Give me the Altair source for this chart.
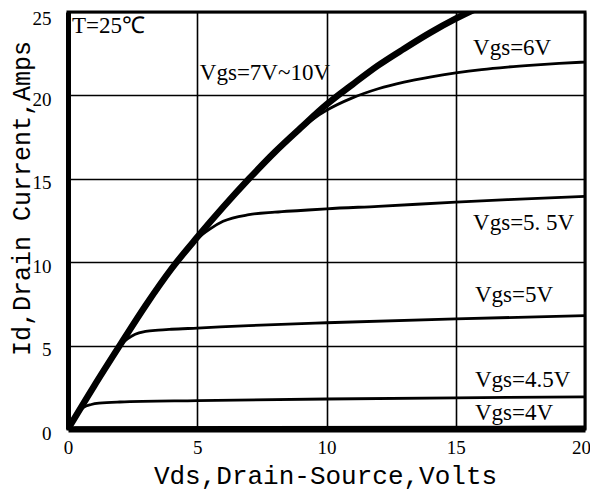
import altair as alt
import pandas as pd

# Thick envelope curve (Vgs = 7V~10V)
thick_x = [0, 1, 2, 3, 4, 5, 6, 7, 8, 9, 10, 11, 12, 13, 14, 15, 16]
thick_y = [0, 2.55, 5.0, 7.4, 9.6, 11.5, 13.3, 15.0, 16.6, 18.05, 19.45, 20.65, 21.8, 22.8, 23.75, 24.6, 25.35]

vgs6_x = [0, 1, 2, 3, 4, 5, 6, 7, 8, 9, 9.5, 10, 11, 12, 13, 14, 15, 16, 17, 18, 19, 20]
vgs6_y = [0, 2.55, 5.0, 7.4, 9.6, 11.5, 13.3, 15.0, 16.6, 18.0, 18.6, 19.1, 19.85, 20.4, 20.8, 21.1, 21.35, 21.55, 21.7, 21.82, 21.92, 22.0]

vgs55_x = [0, 1, 2, 3, 4, 4.5, 5, 5.5, 6, 7, 8, 9, 10, 12, 15, 17, 20]
vgs55_y = [0, 2.55, 5.0, 7.4, 9.6, 10.5, 11.4, 12.0, 12.45, 12.85, 13.0, 13.1, 13.2, 13.35, 13.6, 13.75, 13.95]

vgs5_x = [0, 1, 2, 2.3, 2.6, 3, 3.5, 4, 5, 7, 10, 15, 20]
vgs5_y = [0, 2.55, 5.0, 5.4, 5.68, 5.85, 5.93, 5.98, 6.05, 6.2, 6.37, 6.6, 6.8]

vgs45_x = [0, 0.3, 0.6, 0.9, 1.2, 2, 5, 10, 15, 20]
vgs45_y = [0, 0.8, 1.3, 1.47, 1.55, 1.62, 1.7, 1.8, 1.87, 1.93]

vgs4_x = [0, 0.3, 20]
vgs4_y = [0, 0.08, 0.12]

label_text = ["T=25℃", "Vgs=7V~10V", "Vgs=6V", "Vgs=5. 5V", "Vgs=5V", "Vgs=4.5V", "Vgs=4V"]
label_x = [0.15, 5.1, 15.67, 15.67, 15.74, 15.74, 15.74]
label_y = [23.74, 20.92, 22.42, 11.93, 7.61, 2.52, 0.54]

ticks = [0, 5, 10, 15, 20]
yticks = [0, 5, 10, 15, 20, 25]

thick_df = pd.DataFrame({"x": thick_x, "y": thick_y, "series": "Vgs=7V~10V"})
thin_parts = []
for name, xs, ys in [("Vgs=6V", vgs6_x, vgs6_y), ("Vgs=5.5V", vgs55_x, vgs55_y),
                     ("Vgs=5V", vgs5_x, vgs5_y), ("Vgs=4.5V", vgs45_x, vgs45_y),
                     ("Vgs=4V", vgs4_x, vgs4_y)]:
    thin_parts.append(pd.DataFrame({"x": xs, "y": ys, "series": name}))
thin_df = pd.concat(thin_parts, ignore_index=True)
labels_df = pd.DataFrame({"label": label_text, "x": label_x, "y": label_y})

xscale = alt.Scale(domain=[0, 20], nice=False)
yscale = alt.Scale(domain=[0, 25], nice=False)

xaxis = alt.Axis(values=ticks, title="Vds,Drain-Source,Volts", grid=True, ticks=False,
                 labelPadding=9, labelFlush=False,
                 labelOffset={"condition": {"test": "datum.value === 20", "value": -4}, "value": 0},
                 titleFont="Liberation Mono", titleFontSize=26,
                 titleFontWeight="normal", titleColor="black", titleBaseline="alphabetic",
                 titleY=54, titleX=257, domainWidth=6)
yaxis = alt.Axis(values=yticks, title="Id,Drain Current,Amps", grid=True, ticks=False,
                 labelPadding=17, labelFlush=False,
                 labelOffset={"condition": {"test": "datum.value === 25", "value": 6}, "value": 4},
                 titleFont="Liberation Mono", titleFontSize=25,
                 titleFontWeight="normal", titleColor="black", titleAngle=270,
                 titleBaseline="alphabetic", titleAlign="center", titleX=-39, titleY=186,
                 domainWidth=5)

thick = alt.Chart(thick_df).mark_line(color="black", strokeWidth=6.5, clip=True,
                                      interpolate="monotone").encode(
    x=alt.X("x:Q", scale=xscale, axis=xaxis),
    y=alt.Y("y:Q", scale=yscale, axis=yaxis),
)

thin = alt.Chart(thin_df).mark_line(color="black", strokeWidth=2.8, clip=True,
                                    interpolate="monotone").encode(
    x=alt.X("x:Q", scale=xscale),
    y=alt.Y("y:Q", scale=yscale),
    detail="series:N",
)

text = alt.Chart(labels_df).mark_text(align="left", baseline="alphabetic",
                                      font="Liberation Serif", fontSize=23,
                                      color="black").encode(
    x=alt.X("x:Q", scale=xscale),
    y=alt.Y("y:Q", scale=yscale),
    text="label:N",
)

chart = alt.layer(thick, thin, text).properties(
    width=517, height=417,
    autosize=alt.AutoSizeParams(type="none"),
    padding={"left": 60, "top": 4, "right": 5, "bottom": 64},
    background="white",
).configure_view(
    stroke="black", strokeWidth=3
).configure_axis(
    gridColor="black", gridWidth=1.6, gridOpacity=1,
    domainColor="black",
    labelFont="Liberation Serif", labelFontSize=19, labelColor="black",
)

chart.save("out.html", embed_options={"renderer": "svg", "actions": False})
